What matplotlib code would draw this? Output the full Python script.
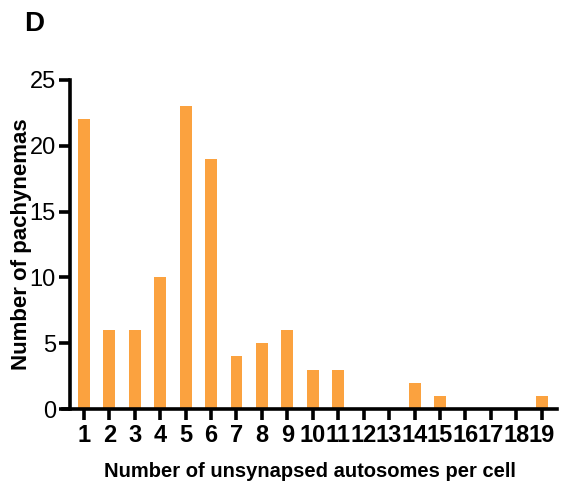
import matplotlib
matplotlib.use("Agg")
import matplotlib.pyplot as plt

categories = list(range(1, 20))
counts = [22, 6, 6, 10, 23, 19, 4, 5, 6, 3, 3, 0, 0, 2, 1, 0, 0, 0, 1]
yticks = [0, 5, 10, 15, 20, 25]

plt.rcParams['font.family'] = ['Liberation Sans', 'DejaVu Sans']

W, H = 571, 491
fig = plt.figure(figsize=(W / 100, H / 100), dpi=100)
ax = fig.add_axes([63 / W, (H - 409) / H, (557 - 63) / W, (409 - 80) / H])

ax.bar(categories, counts, width=0.47, color='#FBA23F', zorder=2)

ax.set_xlim(0.18, 19.6)
ax.set_ylim(0, 25)
ax.spines['left'].set_position(('data', 0.45))
for s in ['top', 'right']:
    ax.spines[s].set_visible(False)
for s in ['left', 'bottom']:
    ax.spines[s].set_linewidth(2.6)
ax.spines['left'].set_bounds(0, 25)

ax.set_yticks(yticks)
ax.set_yticklabels([str(v) for v in yticks], fontsize=17)
ax.set_xticks(categories)
ax.set_xticklabels([str(c) for c in categories], fontsize=17, fontweight='bold')
ax.tick_params(axis='both', direction='out', length=8, width=2.6, pad=2)
ax.tick_params(axis='x', pad=3)

ax.set_ylabel('Number of pachynemas', fontsize=16, fontweight='bold')
ax.yaxis.set_label_coords(-0.063, 0.5)
ax.set_xlabel('Number of unsynapsed autosomes per cell', fontsize=14.5,
              fontweight='bold')
ax.xaxis.set_label_coords(0.5, -0.16)

fig.text(24 / W, 1 - 24 / H, 'D', fontsize=20, fontweight='bold',
         ha='left', va='center')

fig.savefig('out.png', dpi=100)
